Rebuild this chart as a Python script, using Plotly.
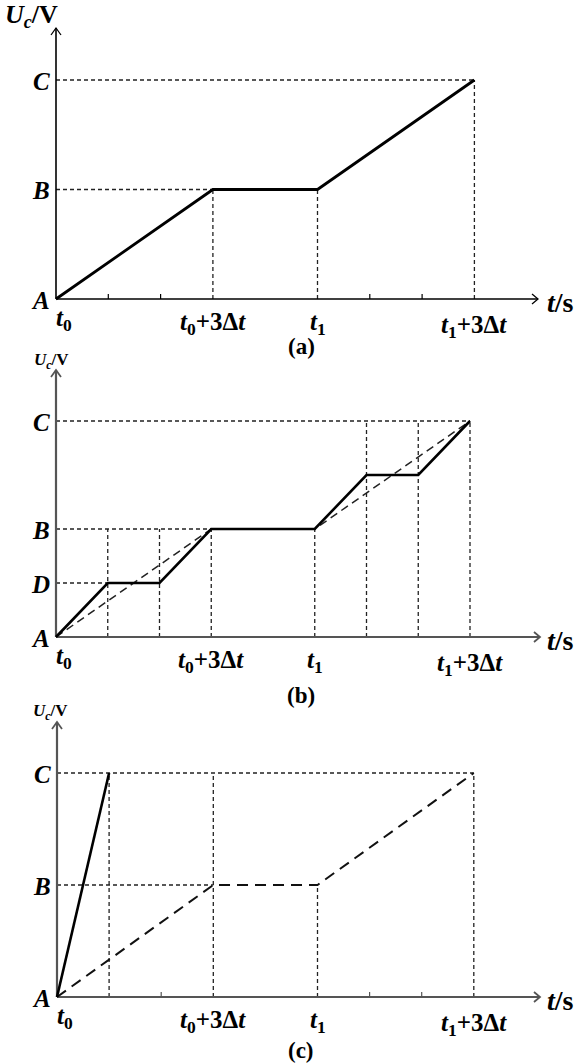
import plotly.graph_objects as go

W, H = 576, 1064

# ---------------- data ----------------
t_tick_vals = [0, 3, 5, 8]
t_tick_text = ["<i>t</i><sub>0</sub>", "<i>t</i><sub>0</sub>+3Δ<i>t</i>",
               "<i>t</i><sub>1</sub>", "<i>t</i><sub>1</sub>+3Δ<i>t</i>"]
level_names = ["A", "D", "B", "C"]
level_vals = [0, 0.5, 1, 2]

a_t = [0, 3, 5, 8]
a_u = [0, 1, 1, 2]

b_t = [0, 1, 2, 3, 5, 6, 7, 8]
b_u = [0, 0.5, 0.5, 1, 1, 1.5, 1.5, 2]
b_ref_t = [0, 3, 5, 8]
b_ref_u = [0, 1, 1, 2]

c_t = [0, 1]
c_u = [0, 2]
c_ref_t = [0, 3, 5, 8]
c_ref_u = [0, 1, 1, 2]

a_minor = [1, 2, 6, 7]
c_minor = [2, 6, 7]

# guides: (x_or_level, from, to)
a_hguides = [(1, 0, 3), (2, 0, 8)]
a_vguides = [(3, 0, 1), (5, 0, 1), (8, 0, 2)]
b_hguides = [(0.5, 0, 1), (1, 0, 3), (2, 0, 8)]
b_vguides = [(1, 0, 1), (2, 0, 1), (3, 0, 1), (5, 0, 1), (6, 0, 2), (7, 0, 2), (8, 0, 2)]
c_hguides = [(1, 0, 3), (2, 0, 8)]
c_vguides = [(1, 0, 2), (3, 0, 2), (5, 0, 1), (8, 0, 2)]

# ---------------- layout geometry (pixels) ----------------
panels = [
    dict(name="a", x0=56, ux=52.3, y0=299, uy=109.5, top=0, bot=358,
         xtip=538, ytip=28, axcol="#000000", axw=1.6, lab_size=26, lab_y=16, lab_x=31,
         levels=["A", "B", "C"], caption="(a)", cap_y=346),
    dict(name="b", x0=56, ux=51.75, y0=637, uy=108, top=358, bot=705,
         xtip=540, ytip=370, axcol="#555555", axw=2.2, lab_size=17, lab_y=361, lab_x=51,
         levels=["A", "D", "B", "C"], caption="(b)", cap_y=695),
    dict(name="c", x0=57, ux=52.1, y0=997, uy=112, top=705, bot=1064,
         xtip=540, ytip=722, axcol="#555555", axw=2.2, lab_size=17, lab_y=712, lab_x=50,
         levels=["A", "B", "C"], caption="(c)", cap_y=1050),
]

SERIF = "Liberation Serif"
fig = go.Figure()
annotations = []
layout_axes = {}

def add_line(idx, xs, ys, color, width, dash="solid"):
    fig.add_trace(go.Scatter(x=xs, y=ys, mode="lines", xaxis=f"x{idx}", yaxis=f"y{idx}",
                             line=dict(color=color, width=width, dash=dash),
                             hoverinfo="skip", showlegend=False))

for i, p in enumerate(panels):
    idx = "" if i == 0 else str(i + 1)
    px2x = lambda px, p=p: (px - p["x0"]) / p["ux"]
    py2y = lambda py, p=p: (p["y0"] - py) / p["uy"]
    dx = lambda d, p=p: d / p["ux"]
    dy = lambda d, p=p: d / p["uy"]

    xa = "xaxis" if i == 0 else f"xaxis{i+1}"
    ya = "yaxis" if i == 0 else f"yaxis{i+1}"
    layout_axes[xa] = dict(domain=[0, 1], range=[px2x(0), px2x(W)], visible=False,
                           anchor=f"y{idx}", fixedrange=True)
    layout_axes[ya] = dict(domain=[1 - p["bot"] / H, 1 - p["top"] / H],
                           range=[py2y(p["bot"]), py2y(p["top"])], visible=False,
                           anchor=f"x{idx}", fixedrange=True)

    gcol = "#222222"
    gdash = "4px,3px"
    hg = {"a": a_hguides, "b": b_hguides, "c": c_hguides}[p["name"]]
    vg = {"a": a_vguides, "b": b_vguides, "c": c_vguides}[p["name"]]
    for lv, x1, x2 in hg:
        add_line(idx, [x1, x2], [lv, lv], gcol, 1.3, gdash)
    for xv, y1, y2 in vg:
        add_line(idx, [xv, xv], [y1, y2], gcol, 1.3, gdash)

    # axes with open arrowheads
    xt = px2x(p["xtip"])
    yt = py2y(p["ytip"])
    add_line(idx, [0, xt], [0, 0], p["axcol"], p["axw"])
    add_line(idx, [0, 0], [0, yt], p["axcol"], p["axw"])
    add_line(idx, [xt - dx(6), xt, xt - dx(6)], [dy(5), 0, -dy(5)], p["axcol"], p["axw"] * 0.8)
    add_line(idx, [-dx(5), 0, dx(5)], [yt - dy(7), yt, yt - dy(7)], p["axcol"], p["axw"] * 0.8)

    minors = {"a": a_minor, "b": [], "c": c_minor}[p["name"]]
    for m in minors:
        add_line(idx, [m, m], [0, dy(5)], p["axcol"], 1.2)

    # data
    if p["name"] == "a":
        add_line(idx, a_t, a_u, "#000000", 2.8)
    elif p["name"] == "b":
        add_line(idx, b_ref_t, b_ref_u, "#222222", 1.5, "8px,5px")
        add_line(idx, b_t, b_u, "#000000", 2.6)
    else:
        add_line(idx, c_ref_t, c_ref_u, "#111111", 2.0, "11px,7px")
        add_line(idx, c_t, c_u, "#000000", 2.6)

    xr, yr = f"x{idx}", f"y{idx}"
    # level labels
    for nm in p["levels"]:
        lv = level_vals[level_names.index(nm)]
        annotations.append(dict(x=px2x(p["x0"] - 4), y=lv, xref=xr, yref=yr, showarrow=False,
                                xanchor="right", yanchor="middle", yshift=-1,
                                text=f"<b><i>{nm}</i></b>",
                                font=dict(family=SERIF, size=25, color="#000")))
    # time labels
    offs = [20, 24, 24, 27]
    for tv, tt, off in zip(t_tick_vals, t_tick_text, offs):
        xpx = p["x0"] + tv * p["ux"]
        if tv == 0:
            xpx += 8
        annotations.append(dict(x=px2x(xpx), y=py2y(p["y0"] + off), xref=xr, yref=yr,
                                showarrow=False, xanchor="center", yanchor="middle",
                                text=f"<b>{tt}</b>",
                                font=dict(family=SERIF, size=25, color="#000")))
    # t/s
    annotations.append(dict(x=px2x(545), y=py2y(p["y0"] + 3), xref=xr, yref=yr, showarrow=False,
                            xanchor="left", yanchor="middle", text="<b><i>t</i>/s</b>",
                            font=dict(family=SERIF, size=28, color="#000")))
    # Uc/V
    annotations.append(dict(x=px2x(p["lab_x"]), y=py2y(p["lab_y"]), xref=xr, yref=yr, showarrow=False,
                            xanchor="center", yanchor="middle",
                            text="<b><i>U</i><sub><i>c</i></sub>/V</b>",
                            font=dict(family=SERIF, size=p["lab_size"], color="#000")))
    # caption
    annotations.append(dict(x=px2x(301), y=py2y(p["cap_y"]), xref=xr, yref=yr, showarrow=False,
                            xanchor="center", yanchor="middle", text=f"<b>{p['caption']}</b>",
                            font=dict(family=SERIF, size=23, color="#000")))

fig.update_layout(width=W, height=H, margin=dict(l=0, r=0, t=0, b=0),
                  paper_bgcolor="white", plot_bgcolor="white",
                  annotations=annotations, showlegend=False, **layout_axes)
fig.write_html("out.html", config={"displayModeBar": False},
               post_script="document.body.style.margin='0';document.body.style.padding='0';")
